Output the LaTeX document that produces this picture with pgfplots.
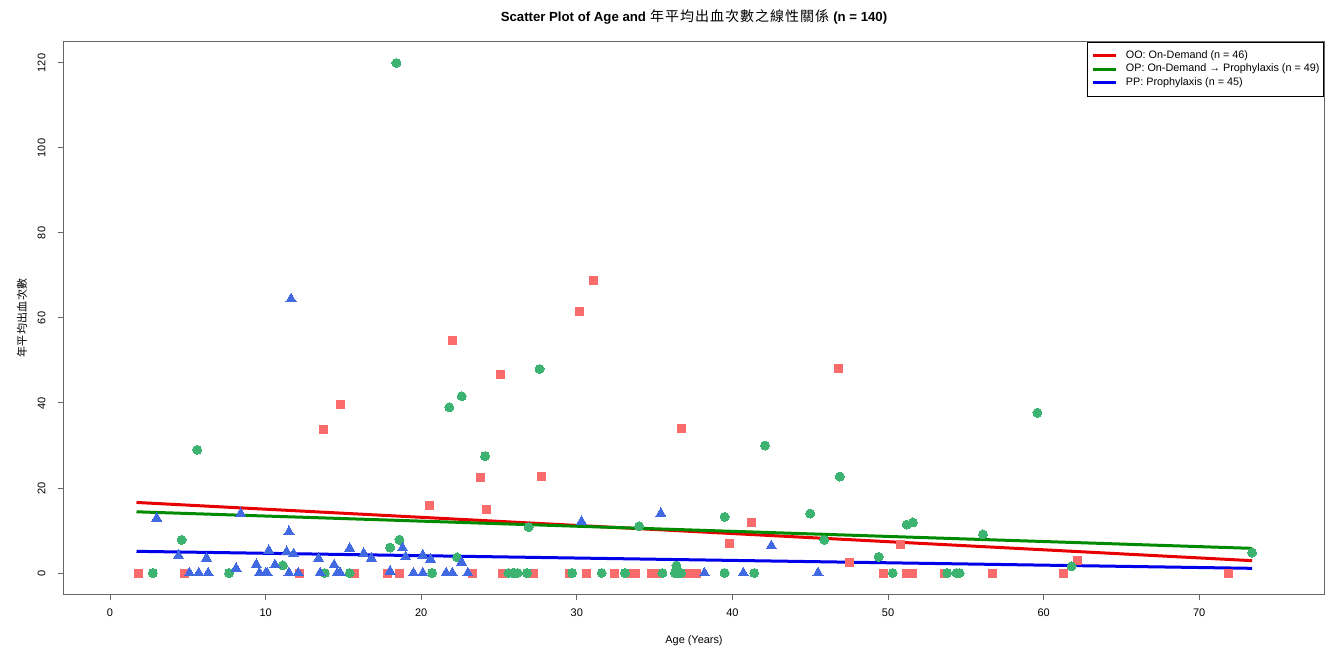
\documentclass[border=0pt]{standalone}
\usepackage{fontspec}
\setmainfont{Liberation Sans}
\newfontfamily\cjk{Noto Sans CJK TC}
\usepackage{pgfplots}
\pgfplotsset{compat=1.18}
\definecolor{oopt}{RGB}{250,108,108}
\definecolor{oppt}{RGB}{60,179,113}
\definecolor{pppt}{RGB}{65,105,225}
\definecolor{ooln}{RGB}{232,0,0}
\definecolor{opln}{RGB}{0,138,0}
\definecolor{ppln}{RGB}{0,0,235}
\newcommand\tc[1]{\makebox[7.5pt]{#1}}
\newcommand\yc[1]{\makebox[5.65pt]{#1}}
\begin{document}
\begin{tikzpicture}
\begin{axis}[
 at={(32pt,29.5pt)}, anchor=south west,
 scale only axis, width=630pt, height=276pt,
 xmin=-2.96, xmax=78.02, ymin=-4.94, ymax=124.94,
 xtick={0,10,...,70}, ytick={0,20,...,120},
 xtick pos=bottom, ytick pos=left,
 tick align=outside, major tick length=3pt,
 axis line style={draw=black!60, line width=0.5pt},
 every tick/.style={draw=black!60, line width=0.5pt},
 /pgf/number format/assume math mode=true,
 ticklabel style={font=\fontsize{5.5}{6}\selectfont},
 xticklabel style={anchor=base, inner sep=0pt, yshift=-8pt},
 yticklabel={\rotatebox{90}{\pgfmathprintnumber{\tick}}},
 yticklabel style={anchor=east, inner sep=0pt, xshift=-6pt},
 title={{\bfseries Scatter Plot of Age and }{\cjk\fontsize{7}{8}\selectfont\tc{年}\tc{平}\tc{均}\tc{出}\tc{血}\tc{次}\tc{數}\tc{之}\tc{線}\tc{性}\tc{關}\tc{係}}{\bfseries\ (n = 140)}},
 every axis title/.style={at={(0.5,1.03623)}, anchor=base, inner sep=0pt, font=\fontsize{6.6}{8}\selectfont},
 xlabel={Age (Years)},
 xlabel style={at={(0.5,-0.08877)}, anchor=base, inner sep=0pt, font=\fontsize{5.45}{6}\selectfont},
 ylabel={\cjk\yc{年}\yc{平}\yc{均}\yc{出}\yc{血}\yc{次}\yc{數}},
 ylabel style={at={(-0.030,0.5)}, anchor=base, inner sep=0pt, font=\fontsize{5.5}{6}\selectfont},
 legend style={at={(1,1)}, anchor=north east, draw=black, line width=0.5pt, fill=white,
   inner xsep=2pt, inner ysep=3.4pt, row sep=0pt, column sep=4.2pt,
   font=\fontsize{5.4}{6.67}\selectfont,
   nodes={inner sep=0pt, minimum height=6.67pt}},
 legend cell align=left,
 legend image code/.code={\draw[#1, line width=1.5pt] (0pt,0pt) -- (11.3pt,0pt);},
]
% OO: On-Demand (red squares)
\addplot[only marks, mark=square*, mark size=2pt, mark options={fill=oopt, draw=oopt, line width=0pt}, forget plot] coordinates {
(13.7,33.7)(14.8,39.7)(22.0,54.6)(25.1,46.6)(30.2,61.5)(31.1,68.9)(20.5,16.0)(23.8,22.4)(24.2,14.9)(27.7,22.7)(36.7,34.0)(41.2,11.9)(39.8,7.0)(47.5,2.4)(50.8,6.6)(46.8,48.0)(62.2,2.9)
(1.8,0)(4.8,0)(12.2,0)(15.7,0)(17.8,0)(18.6,0)(23.3,0)(25.2,0)(27.2,0)(29.5,0)(30.6,0)(32.4,0)(33.5,0)(33.8,0)(34.8,0)(35.1,0)(37.1,0)(37.4,0)(37.7,0)(49.7,0)(51.2,0)(51.6,0)(53.6,0)(56.7,0)(61.3,0)(71.9,0)(34.9,0)(37.2,0)(51.4,0)
};
% OP: On-Demand -> Prophylaxis (green circles)
\addplot[only marks, mark=*, mark size=2.25pt, mark options={fill=oppt, draw=oppt, line width=0pt}, forget plot] coordinates {
(18.4,120)(4.6,7.8)(5.6,29.0)(21.8,39.0)(22.6,41.6)(24.1,27.5)(27.6,48.0)(26.9,10.8)(42.1,30.0)(46.9,22.7)(59.6,37.7)(39.5,13.2)(45.0,14.0)(34.0,11.0)(18.6,7.8)(18.0,6.0)(49.4,3.8)(51.2,11.4)(51.6,11.9)(56.1,9.1)(73.4,4.8)(61.8,1.6)(45.9,7.8)(36.4,1.7)(22.3,3.7)(11.1,1.8)
(2.75,0)(7.65,0)(13.8,0)(15.4,0)(20.7,0)(25.6,0)(25.9,0)(26.2,0)(26.8,0)(29.7,0)(31.6,0)(33.1,0)(35.5,0)(36.3,0)(36.7,0)(39.5,0)(41.4,0)(50.3,0)(53.8,0)(54.4,0)(54.6,0)(26.0,0)(36.5,0)
};
% PP: Prophylaxis (blue triangles)
\addplot[only marks, mark=triangle*, mark size=2.9pt, mark options={fill=pppt, draw=pppt, line width=0pt}, forget plot] coordinates {
(3.0,12.9)(4.4,4.1)(6.2,3.5)(8.4,14.0)(8.1,1.1)(5.1,0)(5.7,0)(6.3,0)(9.4,2.0)(9.6,0)(10.1,0)(10.2,5.3)(10.6,1.9)(11.5,9.7)(11.35,5.0)(11.8,4.5)(11.5,0)(12.1,0)(13.4,3.4)(13.5,0)(14.4,1.9)(14.6,0)(14.8,0)(15.4,5.8)(16.3,4.6)(16.8,3.5)(18.0,0.4)(18.8,5.9)(19.0,3.8)(19.5,0)(20.1,0)(20.1,4.2)(20.6,3.2)(21.6,0)(22.0,0)(22.6,2.5)(23.0,0)(30.3,12.1)(35.4,14.0)(38.2,0)(40.7,0)(42.5,6.4)(45.5,0)(11.63,64.5)(10.0,0)
};
% regression lines
\addplot[ooln, line width=1.5pt] coordinates {(1.7,16.6)(73.4,2.9)};
\addlegendentry{OO: On-Demand (n = 46)}
\addplot[opln, line width=1.5pt] coordinates {(1.7,14.4)(73.4,5.8)};
\addlegendentry{OP: On-Demand → Prophylaxis (n = 49)}
\addplot[ppln, line width=1.5pt] coordinates {(1.7,5.1)(73.4,1.1)};
\addlegendentry{PP: Prophylaxis (n = 45)}
\end{axis}
\pgfresetboundingbox
\path (0,0) rectangle (663.5pt,326.5pt);
\end{tikzpicture}
\end{document}
